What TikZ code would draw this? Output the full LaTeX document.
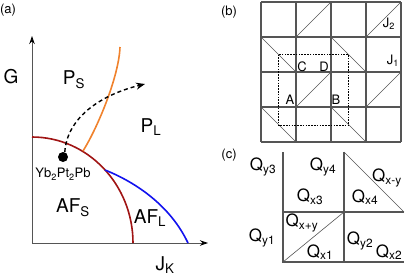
\documentclass[tikz,border=0pt]{standalone}
\usepackage{fontspec}
\setmainfont{TeX Gyre Heros}
\usetikzlibrary{arrows.meta,positioning,calc}
\definecolor{afsred}{HTML}{A01414}
\definecolor{psorange}{HTML}{F0822D}
\definecolor{aflblue}{HTML}{1212EE}
\definecolor{gridgray}{HTML}{555555}

\begin{document}
\begin{tikzpicture}[
    x=1pt, y=-1pt,
    every node/.style={inner sep=0pt, align=center},
    panel/.style={font=\fontsize{13}{15}\selectfont},
    phase/.style={font=\fontsize{19}{22}\selectfont},
    compound/.style={font=\fontsize{13}{15}\selectfont},
    sitelabel/.style={font=\fontsize{13}{15}\selectfont},
    qlabel/.style={font=\fontsize{17}{20}\selectfont},
    axis/.style={line width=0.9pt, gridgray,
      -{Stealth[length=8pt,width=5.5pt,color=black]}},
    boundary/.style={line width=1.6pt},
    gridline/.style={line width=1.1pt, gridgray},
    bond/.style={line width=0.6pt, gridgray},
    cellbox/.style={line width=0.7pt, dash pattern=on 1.6pt off 1.2pt},
    tuning/.style={line width=1.4pt, dash pattern=on 4pt off 3pt,
      -{Stealth[length=9pt,width=7pt]}},
    dot/.style={circle, fill=black, minimum size=10pt},
  ]
  \useasboundingbox (0,0) rectangle (405,277);

  % --- (a) phase diagram ---
  \node[panel] (tagA) at (8,10) {(a)};
  \coordinate (origin) at (32,243);
  \coordinate (gtop) at (32,36);
  \coordinate (jend) at (208,243);
  \draw[axis] (origin) -- (gtop);
  \draw[axis] (origin) -- (jend);
  \node[phase] (glabel) at (11,77) {G};
  \node[phase] (jlabel) at (165,265) {J\textsubscript{K}};

  \coordinate (afsTop) at (32,137);
  \coordinate (afsEnd) at (133,243);
  \coordinate (triple) at (105,170);
  \coordinate (aflEnd) at (188,243);
  \coordinate (psFoot) at (83,151);
  \coordinate (psTop) at (120,47);
  \coordinate (tuneEnd) at (145,84);

  \draw[boundary, afsred] (afsTop) .. controls (88,137) and (133,185) .. (afsEnd);
  \draw[boundary, aflblue] (triple) .. controls (135,182) and (170,205) .. (aflEnd);
  \draw[boundary, psorange] (psFoot) .. controls (98,127) and (119,76) .. (psTop);

  \node[dot] (yb) at (63,157) {};
  \node[compound, below=6pt of yb] (ybname) {Yb\textsubscript{2}Pt\textsubscript{2}Pb};
  \draw[tuning] (yb.70) .. controls (67,118) and (100,95) .. (tuneEnd);

  \node[phase] (ps) at (74,80) {P\textsubscript{S}};
  \node[phase] (pl) at (151,127) {P\textsubscript{L}};
  \node[phase] (afs) at (73,208) {AF\textsubscript{S}};
  \node[phase] (afl) at (150,218) {AF\textsubscript{L}};

  % --- (b) lattice ---
  \node[panel] (tagB) at (229,12) {(b)};
  \foreach \i in {0,...,4} {
    \draw[gridline] (261+35*\i,2) -- (261+35*\i,142);
    \draw[gridline] (261,2+35*\i) -- (401,2+35*\i);
  }
  \foreach \c/\r in {1/0,3/0,1/2,3/2}
    \draw[bond] (261+35*\c,37+35*\r) -- ++(35,-35);
  \foreach \c/\r in {0/1,2/1,0/3,2/3}
    \draw[bond] (261+35*\c,2+35*\r) -- ++(35,35);
  \draw[cellbox] (278.5,54.5) rectangle (348.5,125.5);

  \node[sitelabel] (siteC) at (302,67) {C};
  \node[sitelabel] (siteD) at (324,67) {D};
  \node[sitelabel] (siteA) at (290,100) {A};
  \node[sitelabel] (siteB) at (336,100) {B};
  \node[sitelabel] (jtwo) at (389,24) {J\textsubscript{2}};
  \node[sitelabel] (jone) at (393,61) {J\textsubscript{1}};

  % --- (c) wave vectors ---
  \node[panel] (tagC) at (229,155) {(c)};
  \coordinate (qTL) at (283,152);
  \coordinate (qTM) at (344,152);
  \coordinate (qML) at (283,212);
  \coordinate (qMM) at (344,212);
  \coordinate (qMR) at (404,212);
  \coordinate (qBL) at (283,262);
  \coordinate (qBM) at (344,262);
  \coordinate (qBR) at (404,262);
  \draw[gridline] (qTL) -- (qBL) -- (qBR);
  \draw[gridline] (qTM) -- (qBM);
  \draw[gridline] (qML) -- (qMR);
  \draw[bond] (qTM) -- (qMR);
  \draw[bond] (qBL) -- (qMM);

  \node[qlabel] (qy3) at (263,167) {Q\textsubscript{y3}};
  \node[qlabel] (qy4) at (323,167) {Q\textsubscript{y4}};
  \node[qlabel] (qxmy) at (387,178) {Q\textsubscript{x-y}};
  \node[qlabel] (qx3) at (310,197) {Q\textsubscript{x3}};
  \node[qlabel] (qx4) at (365,197) {Q\textsubscript{x4}};
  \node[qlabel] (qxpy) at (302,223) {Q\textsubscript{x+y}};
  \node[qlabel] (qy1) at (262,238) {Q\textsubscript{y1}};
  \node[qlabel] (qy2) at (360,241) {Q\textsubscript{y2}};
  \node[qlabel] (qx1) at (320,252) {Q\textsubscript{x1}};
  \node[qlabel] (qx2) at (389,252) {Q\textsubscript{x2}};
\end{tikzpicture}
\end{document}
